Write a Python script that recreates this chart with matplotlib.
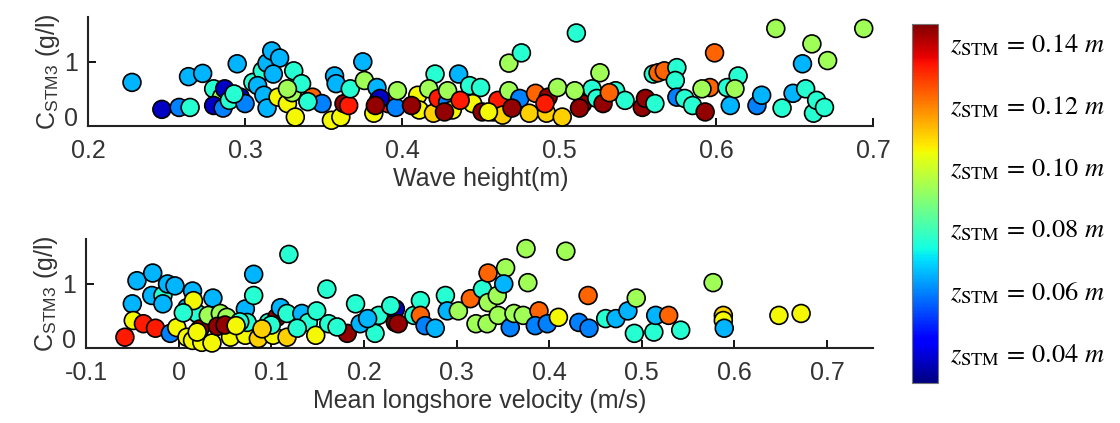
import numpy as np
import matplotlib
matplotlib.use("Agg")
import matplotlib.pyplot as plt

# colour levels (z_STM in m)
DR, R, O, G, Y, YG, C, LB, B, DB = 0.144, 0.132, 0.123, 0.11, 0.105, 0.093, 0.076, 0.065, 0.059, 0.037

# top panel: wave height vs C_STM3
wave_h = [0.228, 0.247, 0.258, 0.265, 0.264, 0.273, 0.280, 0.285, 0.280, 0.286, 0.287, 0.295, 0.297, 0.290,
          0.305, 0.311, 0.308, 0.314, 0.317, 0.322, 0.318, 0.312, 0.314, 0.321, 0.331, 0.327, 0.330, 0.332,
          0.336, 0.327, 0.343, 0.349, 0.355, 0.361, 0.357, 0.358, 0.363, 0.366, 0.367, 0.375, 0.376, 0.382,
          0.385, 0.384, 0.391, 0.396, 0.397, 0.410, 0.411, 0.406, 0.420, 0.421, 0.417, 0.423, 0.429, 0.429,
          0.432, 0.436, 0.427, 0.443, 0.450, 0.445, 0.451, 0.458, 0.461, 0.464, 0.468, 0.468, 0.476, 0.475,
          0.470, 0.481, 0.485, 0.492, 0.493, 0.499, 0.491, 0.511, 0.515, 0.526, 0.521, 0.524, 0.528, 0.536,
          0.542, 0.532, 0.553, 0.555, 0.561, 0.560, 0.563, 0.567, 0.575, 0.574, 0.575, 0.580, 0.585, 0.593,
          0.599, 0.596, 0.591, 0.607, 0.609, 0.614, 0.612, 0.626, 0.629, 0.642, 0.638, 0.649, 0.655, 0.657,
          0.661, 0.662, 0.664, 0.669, 0.671, 0.694, 0.386, 0.383, 0.437, 0.455, 0.502, 0.510, 0.513, 0.340,
          0.300, 0.293]
conc_h = [0.68, 0.26, 0.29, 0.29, 0.77, 0.82, 0.58, 0.45, 0.32, 0.28, 0.58, 0.97, 0.45, 0.40,
          0.68, 0.86, 0.63, 0.98, 1.17, 1.06, 0.81, 0.48, 0.28, 0.45, 0.86, 0.35, 0.52, 0.14,
          0.66, 0.58, 0.45, 0.35, 0.09, 0.14, 0.78, 0.66, 0.35, 0.32, 0.58, 1.00, 0.71, 0.20,
          0.40, 0.60, 0.35, 0.29, 0.55, 0.48, 0.25, 0.32, 0.20, 0.81, 0.58, 0.43, 0.37, 0.55,
          0.25, 0.81, 0.22, 0.63, 0.60, 0.35, 0.22, 0.22, 0.40, 0.17, 0.55, 0.98, 1.14, 0.43,
          0.28, 0.20, 0.51, 0.20, 0.45, 0.60, 0.35, 1.45, 0.35, 0.83, 0.58, 0.43, 0.35, 0.55,
          0.40, 0.52, 0.29, 0.43, 0.35, 0.81, 0.83, 0.86, 0.91, 0.71, 0.45, 0.43, 0.32, 0.22,
          1.14, 0.60, 0.58, 0.60, 0.32, 0.78, 0.58, 0.32, 0.48, 0.28, 1.52, 0.51, 0.97, 0.58,
          1.28, 0.20, 0.40, 0.29, 1.02, 1.52, 0.43, 0.32, 0.40, 0.22, 0.14, 0.55, 0.28, 0.38,
          0.35, 0.50]
z_h = [LB, DB, B, C, LB, LB, C, YG, DB, B, DB, LB, DB, C,
       C, C, LB, LB, LB, LB, LB, LB, LB, Y, C, Y, YG, Y,
       C, YG, O, B, Y, Y, LB, LB, DR, R, C, LB, YG, Y,
       B, LB, R, B, YG, Y, Y, DR, G, C, YG, R, B, YG,
       Y, LB, DR, C, C, Y, DR, Y, R, G, YG, YG, C, B,
       DR, G, O, G, DR, YG, R, C, DR, YG, C, C, DR, C,
       C, O, DR, DR, C, C, O, O, C, C, B, C, C, DR,
       O, O, YG, C, LB, C, YG, B, LB, C, YG, LB, LB, C,
       YG, C, C, C, YG, YG, DB, DR, R, Y, G, YG, DR, C,
       B, C]

# bottom panel: mean longshore velocity vs C_STM3
vel = [-0.058, -0.050, -0.045, -0.028, -0.049, -0.038, -0.025, -0.029, -0.017, -0.012, -0.004, -0.017,
       -0.009, -0.002, 0.009, 0.015, 0.020, 0.009, 0.015, 0.025, 0.036, 0.037, 0.039, 0.023, 0.032,
       0.045, 0.056, 0.072, 0.072, 0.081, 0.081, 0.074, 0.086, 0.102, 0.117, 0.097, 0.106, 0.110, 0.119,
       0.117, 0.133, 0.140, 0.148, 0.149, 0.160, 0.162, 0.182, 0.191, 0.196, 0.212, 0.216, 0.234, 0.234,
       0.229, 0.237, 0.254, 0.261, 0.261, 0.266, 0.277, 0.288, 0.290, 0.302, 0.315, 0.321, 0.328, 0.334,
       0.334, 0.344, 0.353, 0.351, 0.333, 0.345, 0.358, 0.362, 0.375, 0.377, 0.372, 0.389, 0.385, 0.398,
       0.410, 0.418, 0.432, 0.443, 0.442, 0.461, 0.472, 0.485, 0.494, 0.492, 0.513, 0.515, 0.529, 0.542,
       0.577, 0.588, 0.588, 0.589, 0.648, 0.672, 0.052, 0.066, 0.042, 0.128, 0.100, 0.171, 0.204,
       0.016, 0.050, 0.062, 0.020, 0.005, 0.090]
conc_v = [0.17, 0.69, 1.05, 1.17, 0.43, 0.38, 0.31, 0.82, 0.82, 1.00, 0.97, 0.69,
          0.23, 0.32, 0.63, 0.89, 0.54, 0.17, 0.12, 0.09, 0.08, 0.78, 0.40, 0.30, 0.51,
          0.54, 0.17, 0.20, 0.61, 1.15, 0.82, 0.40, 0.15, 0.20, 0.17, 0.40, 0.48, 0.63, 1.46,
          0.54, 0.54, 0.40, 0.20, 0.58, 0.92, 0.38, 0.23, 0.69, 0.38, 0.23, 0.51, 0.40, 0.61,
          0.66, 0.38, 0.51, 0.74, 0.51, 0.35, 0.31, 0.82, 0.58, 0.58, 0.77, 0.38, 0.92, 1.17,
          0.71, 0.82, 1.25, 1.00, 0.38, 0.51, 0.32, 0.54, 1.55, 1.02, 0.51, 0.58, 0.35, 0.38,
          0.48, 1.51, 0.40, 0.31, 0.82, 0.46, 0.46, 0.58, 0.78, 0.23, 0.25, 0.51, 0.51, 0.28,
          1.02, 0.51, 0.43, 0.31, 0.51, 0.54, 0.48, 0.41, 0.34, 0.31, 0.36, 0.33, 0.46,
          0.74, 0.36, 0.35, 0.25, 0.55, 0.30]
z_v = [R, LB, LB, LB, Y, R, R, LB, C, LB, LB, LB,
       B, Y, LB, LB, C, Y, Y, Y, Y, LB, O, DR, YG,
       YG, Y, Y, LB, LB, C, C, G, Y, G, C, DR, LB, C,
       C, LB, C, Y, C, C, C, DR, C, LB, C, C, DR, DB,
       C, DR, C, C, O, B, LB, C, LB, YG, O, YG, C, O,
       YG, YG, YG, LB, YG, YG, B, YG, YG, YG, YG, O, B, B,
       Y, YG, B, B, O, C, LB, LB, YG, C, C, LB, O, C,
       YG, G, Y, LB, Y, Y, YG, C, DR, C, C, C, LB,
       Y, DR, Y, Y, C, G]

z_ticks = [0.04, 0.06, 0.08, 0.10, 0.12, 0.14]

plt.rcParams['font.family'] = ['Liberation Sans', 'DejaVu Sans']
plt.rcParams['mathtext.fontset'] = 'stix'
txt = '#333333'

fig = plt.figure(figsize=(11.2, 4.23), dpi=100)
ax1 = fig.add_axes([0.0786, 0.702, 0.701, 0.258])
ax2 = fig.add_axes([0.0768, 0.177, 0.703, 0.258])
cax = fig.add_axes([0.814, 0.0946, 0.0232, 0.849])

norm = plt.Normalize(0.03, 0.146)
for ax, xs, ys, zs, xl, xt, xlab in [
        (ax1, wave_h, conc_h, z_h, (0.2, 0.7), [0.2, 0.3, 0.4, 0.5, 0.6, 0.7], 'Wave height(m)'),
        (ax2, vel, conc_v, z_v, (-0.1, 0.75), [-0.1, 0, 0.1, 0.2, 0.3, 0.4, 0.5, 0.6, 0.7],
         'Mean longshore velocity (m/s)')]:
    sc = ax.scatter(xs, ys, c=zs, cmap='jet', norm=norm, s=165, edgecolors='black',
                    linewidths=1.2, zorder=3, clip_on=False)
    ax.set_xlim(xl)
    ax.set_ylim(0, 1.7)
    ax.set_xticks(xt)
    ax.set_xticklabels(['0' if t == 0 else ('%g' % t) for t in xt])
    ax.set_yticks([0, 1])
    for s in ['top', 'right']:
        ax.spines[s].set_visible(False)
    for s in ['left', 'bottom']:
        ax.spines[s].set_linewidth(1.5)
        ax.spines[s].set_color('#222222')
    ax.tick_params(direction='in', length=6, width=1.3, labelsize=18, labelcolor=txt)
    ax.tick_params(axis='x', pad=9)
    ax.tick_params(axis='y', pad=7)
    # lift the "0" label a little so it clears the x tick labels
    ax.get_yticklabels()[0].set_va('baseline')
    ax.set_xlabel(xlab, fontsize=18, color=txt, labelpad=3)
    ax.set_ylabel(r'C$_{\mathregular{STM3}}$ (g/l)', fontsize=18, color=txt, labelpad=2)

cb = fig.colorbar(sc, cax=cax, ticks=z_ticks)
cb.outline.set_linewidth(0.8)
cb.outline.set_edgecolor('#777777')
cb.ax.tick_params(length=0, pad=9)
cb.ax.set_yticklabels([r'$z_{\mathrm{STM}}\,=\,%.2f\ m$' % t for t in z_ticks], fontsize=19)

fig.savefig('out.png', dpi=100)
